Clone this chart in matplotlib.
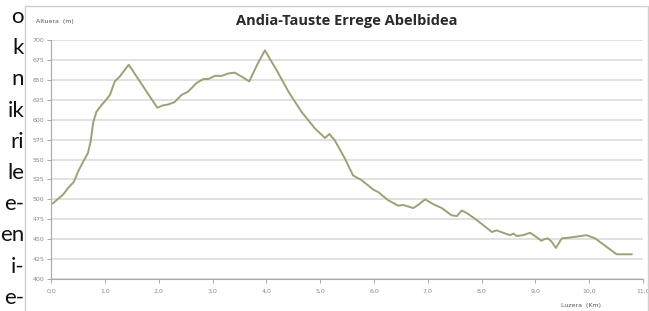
import matplotlib
matplotlib.use('Agg')
import matplotlib.pyplot as plt
from matplotlib.patches import Rectangle
from matplotlib.ticker import FuncFormatter, MultipleLocator

# profile of the route (distance in km, elevation in m)
km = [0.03, 0.22, 0.31, 0.42, 0.50, 0.59, 0.68, 0.73, 0.78, 0.84,
      0.93, 1.02, 1.09, 1.18, 1.27, 1.44, 1.97, 2.08, 2.17, 2.29,
      2.42, 2.54, 2.70, 2.83, 2.92, 3.04, 3.17, 3.29, 3.41, 3.54,
      3.68, 3.82, 3.97, 4.19, 4.41, 4.65, 4.90, 5.09, 5.17, 5.27,
      5.46, 5.61, 5.77, 5.99, 6.08, 6.26, 6.45, 6.54, 6.73, 6.82,
      6.95, 7.10, 7.26, 7.44, 7.54, 7.63, 7.72, 7.91, 8.19, 8.28,
      8.40, 8.53, 8.59, 8.65, 8.77, 8.90, 8.99, 9.11, 9.17, 9.23,
      9.30, 9.38, 9.49, 9.64, 9.95, 10.11, 10.29, 10.51, 10.79]
elev = [495, 506, 514, 522, 535, 547, 558, 572, 597, 610,
        618, 625, 631, 648, 654, 669, 615, 618, 619, 622,
        631, 635, 646, 651, 651, 655, 655, 658, 659, 654,
        648, 668, 687, 662, 635, 610, 589, 577, 582, 574,
        551, 530, 524, 512, 509, 499, 492, 493, 489, 493,
        500, 494, 489, 480, 479, 486, 483, 474, 459, 461,
        458, 455, 457, 454, 455, 458, 454, 448, 450, 451,
        447, 439, 451, 452, 455, 451, 442, 431, 431]

# visible ends of the page text on the left
side_text = ['o', 'k', 'n', 'ik', 'ri', 'le', 'e-', 'en', 'i-', 'e-']

W, H = 649, 311
fig = plt.figure(figsize=(W / 100, H / 100), dpi=100)
fig.patch.set_facecolor('white')

# chart frame
fig.patches.append(Rectangle((25 / W, -0.01), (W - 26) / W, 1 - 6 / H + 0.01,
                             transform=fig.transFigure, fill=False,
                             edgecolor='#d0d0d0', linewidth=1.0))

ax = fig.add_axes([51.3 / W, 1 - 279 / H, (643 - 51.3) / W, (279 - 40) / H])
ax.plot(km, elev, color='#a09f76', linewidth=1.4, solid_joinstyle='round')

ax.set_xlim(0, 11)
ax.set_ylim(400, 700)
ax.xaxis.set_major_locator(MultipleLocator(1))
ax.yaxis.set_major_locator(MultipleLocator(25))
ax.xaxis.set_major_formatter(FuncFormatter(lambda v, p: f'{v:.1f}'.replace('.', ',')))
ax.yaxis.set_major_formatter(FuncFormatter(lambda v, p: f'{int(v)}'))

ax.grid(axis='y', color='#dcdcdc', linewidth=1.2)
ax.set_axisbelow(True)
for s in ['top', 'right']:
    ax.spines[s].set_visible(False)
for s in ['left', 'bottom']:
    ax.spines[s].set_color('#a8a8a8')
    ax.spines[s].set_linewidth(0.8)
ax.tick_params(axis='both', colors='#a8a8a8', labelcolor='#888888',
               labelsize=4.5, length=3, width=0.7)
ax.tick_params(axis='x', pad=4)
ax.tick_params(axis='y', pad=2)

fig.text(347 / W, 1 - 21 / H, 'Andia-Tauste Errege Abelbidea', ha='center', va='center',
         fontsize=10.5, fontweight='bold', color='#2a2a2a', family='Open Sans')
fig.text(36 / W, 1 - 22 / H, 'Altuera  (m)', ha='left', va='center',
         fontsize=4.5, color='#555555')
fig.text(581 / W, 1 - 305 / H, 'Luzera  (Km)', ha='center', va='center',
         fontsize=4.5, color='#555555')

for i, t in enumerate(side_text):
    fig.text(24 / W, 1 - (17 + i * 31.2) / H, t, ha='right', va='center',
             fontsize=16, color='#111111', family='Lato')

fig.savefig('out.png', dpi=100)
